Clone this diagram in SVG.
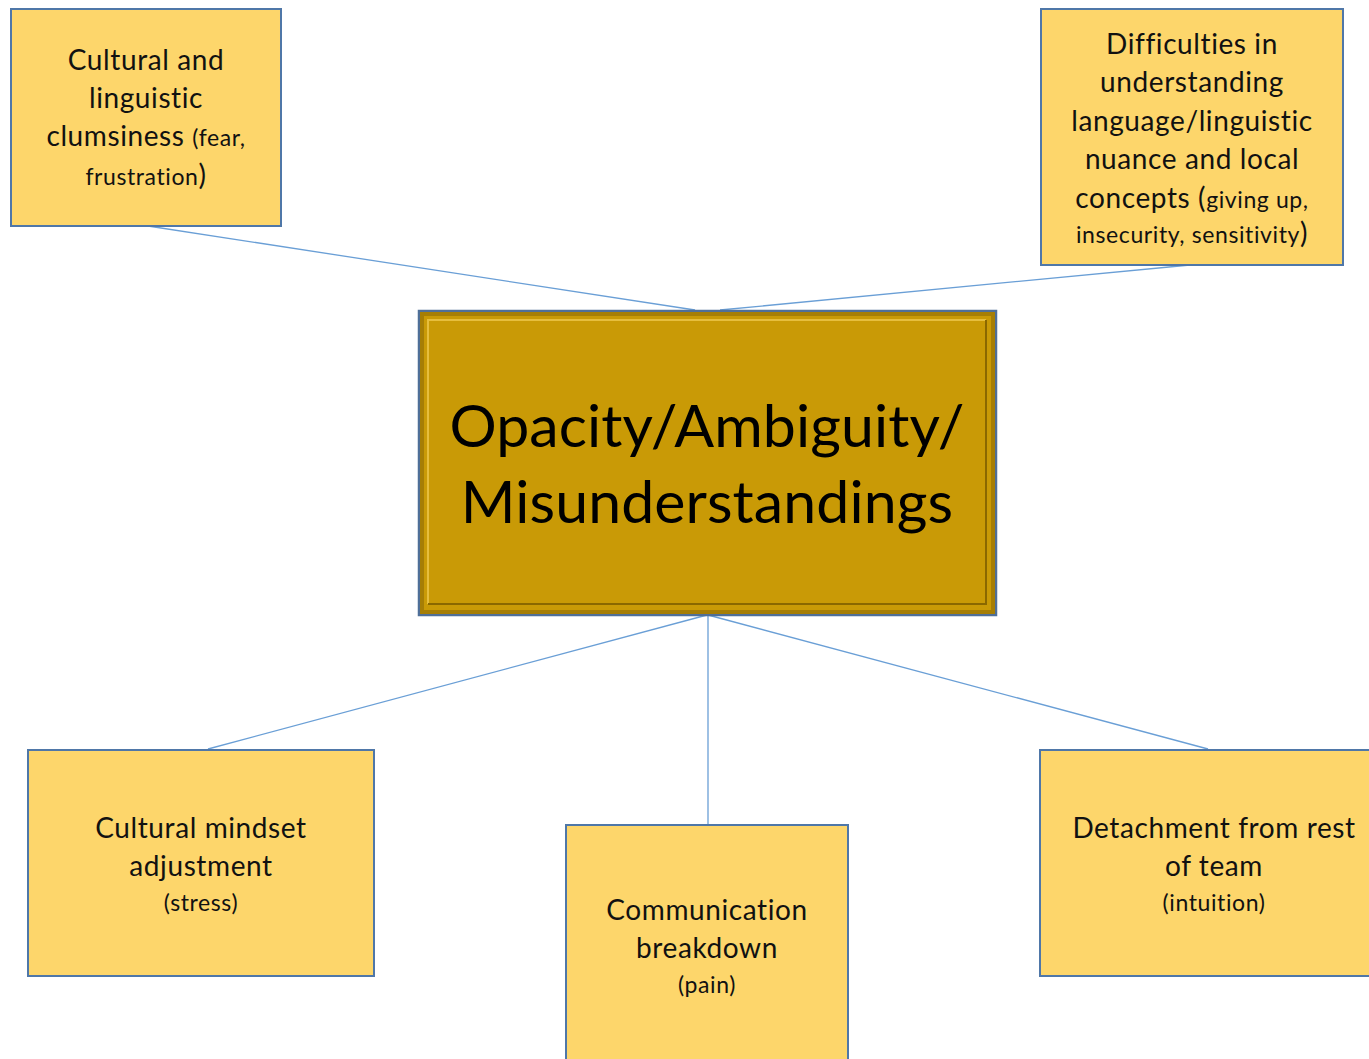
<svg xmlns="http://www.w3.org/2000/svg" width="1369" height="1059" viewBox="0 0 1369 1059">
  <style>
    .box { fill: #fdd66b; stroke: #4f77a8; stroke-width: 2; }
    .link { stroke: #6a9fd6; stroke-width: 1.3; fill: none; }
    text { font-variant-ligatures: none; }
    .t { font-family: Lato, "Open Sans", sans-serif; font-size: 28px; letter-spacing: 0.6px; fill: #111; text-anchor: middle; }
    .s { font-size: 23px; letter-spacing: 0.6px; }
    .big { font-family: Lato, "Open Sans", sans-serif; font-size: 59px; letter-spacing: 0.1px; fill: #000; text-anchor: middle; }
  </style>
  <rect width="1369" height="1059" fill="#ffffff"/>

  <!-- connectors -->
  <g id="connectors">
    <line class="link" x1="148" y1="226" x2="695" y2="310"/>
    <line class="link" x1="1190" y1="265" x2="720" y2="310"/>
    <line class="link" x1="707" y1="615" x2="208" y2="749"/>
    <line class="link" x1="708" y1="615" x2="708" y2="825"/>
    <line class="link" x1="708" y1="615" x2="1208" y2="749"/>
  </g>

  <!-- central node -->
  <g id="center">
    <rect x="419" y="311" width="577" height="304" fill="#c99a06" stroke="#4f6f98" stroke-width="2.5"/>
    <rect x="422" y="314" width="571" height="298" fill="none" stroke="#a67e05" stroke-width="4"/>
    <path d="M428 604 V320 H986" fill="none" stroke="#e6be3e" stroke-width="2"/>
    <path d="M428 604 H986 V320" fill="none" stroke="#8a6800" stroke-width="2"/>
    <text class="big" x="707" y="447">Opacity/Ambiguity/</text>
    <text class="big" x="707" y="523">Misunderstandings</text>
  </g>

  <!-- top-left node -->
  <g id="clumsiness">
    <rect class="box" x="11" y="9" width="270" height="217"/>
    <text class="t" x="146" y="70">Cultural and</text>
    <text class="t" x="146" y="108">linguistic</text>
    <text class="t" x="146" y="146">clumsiness <tspan class="s">(fear,</tspan></text>
    <text class="t" x="146" y="185"><tspan class="s">frustration</tspan>)</text>
  </g>

  <!-- top-right node -->
  <g id="difficulties">
    <rect class="box" x="1041" y="9" width="302" height="256"/>
    <text class="t" x="1192" y="54">Difficulties in</text>
    <text class="t" x="1192" y="92">understanding</text>
    <text class="t" x="1192" y="131">language/linguistic</text>
    <text class="t" x="1192" y="169">nuance and local</text>
    <text class="t" x="1192" y="208">concepts (<tspan class="s">giving up,</tspan></text>
    <text class="t" x="1192" y="243"><tspan class="s">insecurity, sensitivity</tspan>)</text>
  </g>

  <!-- bottom-left node -->
  <g id="mindset">
    <rect class="box" x="28" y="750" width="346" height="226"/>
    <text class="t" x="201" y="838">Cultural mindset</text>
    <text class="t" x="201" y="876">adjustment</text>
    <text class="t s" x="201" y="911">(stress)</text>
  </g>

  <!-- bottom-centre node -->
  <g id="breakdown">
    <rect class="box" x="566" y="825" width="282" height="240"/>
    <text class="t" x="707" y="920">Communication</text>
    <text class="t" x="707" y="958">breakdown</text>
    <text class="t s" x="707" y="993">(pain)</text>
  </g>

  <!-- bottom-right node -->
  <g id="detachment">
    <rect class="box" x="1040" y="750" width="340" height="226"/>
    <text class="t" x="1214" y="838">Detachment from rest</text>
    <text class="t" x="1214" y="876">of team</text>
    <text class="t s" x="1214" y="911">(intuition)</text>
  </g>
</svg>
